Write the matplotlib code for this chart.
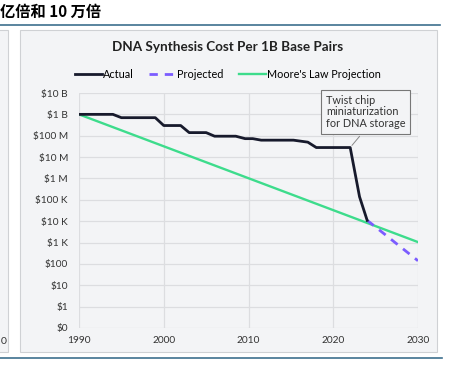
import matplotlib
matplotlib.use("Agg")
import matplotlib.pyplot as plt
from matplotlib.patches import Rectangle
from matplotlib.lines import Line2D

# data
actual_years = [1990, 1994, 1995, 1999, 2000, 2002, 2003, 2005, 2006, 2008.5, 2009.6,
                2010.5, 2011.5, 2015.3, 2017, 2018, 2022, 2023.1, 2024]
actual_cost = [1e9, 1e9, 7e8, 7e8, 3e8, 3e8, 1.4e8, 1.4e8, 9.5e7, 9.5e7, 7.3e7,
               7.3e7, 6.2e7, 6.2e7, 5e7, 2.8e7, 2.8e7, 1.4e5, 1.1e4]
proj_years = [2024, 2030]
proj_cost = [1.1e4, 1.4e2]
moore_years = [1990, 2030]
moore_cost = [1e9, 1.05e3]

ytick_vals = [1e-1, 1, 1e1, 1e2, 1e3, 1e4, 1e5, 1e6, 1e7, 1e8, 1e9, 1e10]
ytick_labels = ["$0", "$1", "$10", "$100", "$1 K", "$10 K", "$100 K", "$1 M",
                "$10 M", "$100 M", "$1 B", "$10 B"]
xtick_vals = [1990, 2000, 2010, 2020, 2030]

W, H = 452, 379
panel_bg = "#f3f4f6"
edge = "#cfd1d4"
grid_c = "#dcdde0"
blue = "#3d6f8e"

plt.rcParams["font.family"] = ["Lato", "DejaVu Sans"]

fig = plt.figure(figsize=(W / 100, H / 100), dpi=100)
fig.patch.set_facecolor("white")

def fx(x):
    return x / W

def fy(y):
    return 1 - y / H

# left panel (cut off) and main panel, behind the axes
fig.patches.append(Rectangle((fx(-10), fy(352)), fx(18), fy(30) - fy(352),
                             transform=fig.transFigure, fc=panel_bg, ec=edge, lw=0.8,
                             zorder=-5))
fig.patches.append(Rectangle((fx(20), fy(352)), fx(417), fy(30) - fy(352),
                             transform=fig.transFigure, fc=panel_bg, ec=edge, lw=0.8,
                             zorder=-5))
# blue rules
fig.lines.append(Line2D([0, fx(440)], [fy(25), fy(25)], transform=fig.transFigure,
                        color=blue, lw=1.2, zorder=-5))
fig.lines.append(Line2D([0, fx(442)], [fy(358), fy(358)], transform=fig.transFigure,
                        color=blue, lw=1.2, zorder=-5))

fig.text(0, fy(12), "亿倍和 10 万倍", fontsize=11, fontweight="bold", style="italic",
         family=["Noto Sans CJK SC", "DejaVu Sans"], va="center", ha="left")
fig.text(fx(1), fy(341), "0", fontsize=7.5, va="center", ha="left", color="#333333")

fig.text(fx(228), fy(47), "DNA Synthesis Cost Per 1B Base Pairs", fontsize=9.7,
         fontweight="bold", ha="center", va="center", color="#222222")

ax = fig.add_axes([fx(79), fy(328), fx(418) - fx(79), fy(93) - fy(328)])
ax.set_facecolor(panel_bg)
ax.set_yscale("log")
ax.set_xlim(1990, 2030)
ax.set_ylim(1e-1, 1e10)

ax.plot(actual_years, actual_cost, color="#171a2c", lw=2, label="Actual", zorder=4)
ax.plot(proj_years, proj_cost, color="#7b5cff", lw=2, ls=(0, (3, 2.5)),
        label="Projected", zorder=3)
ax.plot(moore_years, moore_cost, color="#3ddc8c", lw=1.7,
        label="Moore's Law Projection", zorder=2)

ax.set_yticks(ytick_vals)
ax.set_yticklabels(ytick_labels)
ax.minorticks_off()
ax.set_xticks(xtick_vals)
ax.tick_params(length=0, labelsize=7.3, colors="#333333")
ax.tick_params(axis="y", pad=8)
ax.tick_params(axis="x", pad=6)
ax.grid(True, color=grid_c, lw=0.9)
ax.set_axisbelow(True)
for s in ax.spines.values():
    s.set_visible(False)

ax.legend(loc="center", bbox_to_anchor=(0.44, 1.08), ncol=3, frameon=False,
          fontsize=7.8, handlelength=2.5, columnspacing=1.4, handletextpad=0.1)

ax.annotate("Twist chip\nminiaturization\nfor DNA storage", xy=(2022, 2.8e7),
            xytext=(326, H - 95), textcoords="figure pixels", ha="left", va="top",
            fontsize=7.8, color="#333333", linespacing=1.05,
            bbox=dict(boxstyle="square,pad=0.45", fc=panel_bg, ec="#777777", lw=0.8),
            arrowprops=dict(arrowstyle="-", color="#888888", lw=0.7,
                            relpos=(0.5, 0.0)),
            annotation_clip=False, zorder=5)

fig.savefig("out.png", dpi=100)
